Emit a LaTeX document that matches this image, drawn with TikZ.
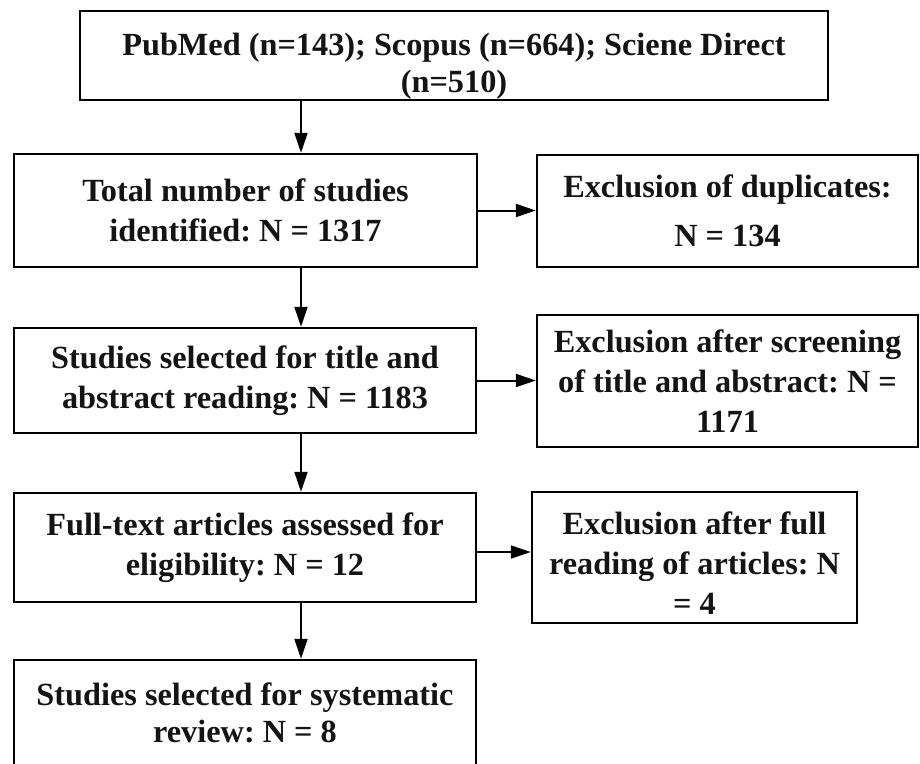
\documentclass[tikz,border=0pt]{standalone}
\usepackage{fontspec}
\setmainfont{Liberation Serif}
\usetikzlibrary{arrows.meta}
\frenchspacing
\tikzset{
  box/.style={draw=black, line width=2.4pt, rectangle, align=center, inner sep=0pt,
    font=\fontsize{32.3}{40}\selectfont\bfseries\frenchspacing, text=black!92},
  arr/.style={line width=2pt, draw=black, -{Triangle[length=20pt,width=13pt]}}
}
\begin{document}
\begin{tikzpicture}[x=1pt,y=-1pt]
\useasboundingbox (0,0) rectangle (920,763);
\fill[white] (0,0) rectangle (920,763);
\clip (0,0) rectangle (920,763);
\coordinate (ax) at (301,0);
\coordinate (ay) at (0,552);
\node[box, minimum width=748pt, minimum height=89pt] (b1) at (454,55.5)
  {\rule{0pt}{44pt}PubMed (n=143); Scopus (n=664); Sciene Direct\\[-3pt](n=510)};
\node[box, minimum width=463pt, minimum height=113pt] (b2) at (245.5,210.5)
  {Total number of studies\\identified: N = 1317};
\node[box, minimum width=462pt, minimum height=105pt] (b3) at (245,380.5)
  {Studies selected for title and\\abstract reading: N = 1183};
\node[box, minimum width=462pt, minimum height=109pt] (b4) at (245,547.5)
  {Full-text articles assessed for\\eligibility: N = 12};
\node[box, minimum width=462pt, minimum height=106pt] (b5) at (245,713)
  {Studies selected for systematic\\[-3pt]review: N = 8};
\node[box, minimum width=381pt, minimum height=112pt] (x1) at (727.5,211)
  {Exclusion of duplicates:\\[9pt]N = 134};
\node[box, minimum width=381pt, minimum height=132pt] (x2) at (727.5,381)
  {Exclusion after screening\\of title and abstract: N =\\1171};
\node[box, minimum width=325pt, minimum height=131pt] (x3) at (694.5,557.5)
  {\rule{0pt}{33pt}Exclusion after full\\reading of articles: N\\= 4};
\draw[arr] (b1.south -| ax) -- (b2.north -| ax);
\draw[arr] (b2.south -| ax) -- (b3.north -| ax);
\draw[arr] (b3.south -| ax) -- (b4.north -| ax);
\draw[arr] (b4.south -| ax) -- (b5.north -| ax);
\draw[arr] (b2.east) -- (b2.east -| x1.west);
\draw[arr] (b3.east) -- (b3.east -| x2.west);
\draw[arr] (b4.east |- ay) -- (x3.west |- ay);
\end{tikzpicture}
\end{document}
